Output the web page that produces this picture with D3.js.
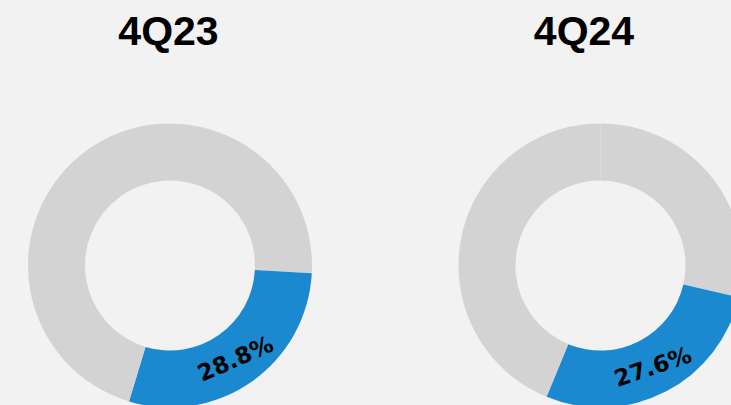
<!DOCTYPE html>
<html>
<head>
<meta charset="utf-8">
<script src="https://cdnjs.cloudflare.com/ajax/libs/d3/7.8.5/d3.min.js"></script>
<style>
  html, body { margin: 0; padding: 0; background: #f2f2f2; }
  svg { display: block; }
</style>
</head>
<body>
<div id="chart"></div>
<script>
// quarters and their slices (percent); blue slice is the highlighted share
var quarters = ["4Q23", "4Q24"];
var slices4Q23 = [36.0, 28.8, 35.2];
var slices4Q24 = [28.6, 27.6, 34.6, 9.2];
var highlight = [1, 1];            // index of the blue slice in each donut
var labels = ["28.8%", "27.6%"];

var width = 731, height = 405,
    outerR = 142, innerR = 85;

// layout for each panel
var centers = [[170, 265.5], [600.5, 265.5]],
    titleX = [168.5, 584],
    startAngles = [-36.5, 0];       // degrees, clockwise from 12 o'clock

var svg = d3.select("#chart").append("svg")
    .attr("width", width)
    .attr("height", height);

svg.append("rect")
    .attr("width", width)
    .attr("height", height)
    .attr("fill", "#f2f2f2");

var arc = d3.arc()
    .innerRadius(innerR)
    .outerRadius(outerR);

var data = [slices4Q23, slices4Q24];

data.forEach(function(values, k) {
    var start = startAngles[k] * Math.PI / 180;
    var pie = d3.pie()
        .sort(null)
        .startAngle(start)
        .endAngle(start + 2 * Math.PI);

    var g = svg.append("g")
        .attr("transform", "translate(" + centers[k][0] + "," + centers[k][1] + ")");

    var arcs = pie(values);

    g.selectAll(".arc")
        .data(arcs)
        .enter().append("path")
        .attr("class", "arc")
        .attr("d", arc)
        .attr("fill", function(d, i) { return i === highlight[k] ? "#1a89d0" : "#d2d3d2"; });

    // label along the blue slice
    var hl = arcs[highlight[k]];
    var c = arc.centroid(hl);
    var mid = (hl.startAngle + hl.endAngle) / 2 * 180 / Math.PI;
    var rot = (mid - 180) * 0.68;
    g.append("text")
        .attr("transform", "translate(" + c[0] + "," + c[1] + ") rotate(" + rot + ")")
        .attr("text-anchor", "middle")
        .attr("dy", "0.36em")
        .attr("font-family", "DejaVu Sans, sans-serif")
        .attr("font-weight", "bold")
        .attr("font-size", 23)
        .attr("fill", "#000")
        .text(labels[k]);

    svg.append("text")
        .attr("x", titleX[k])
        .attr("y", 45)
        .attr("text-anchor", "middle")
        .attr("font-family", "Liberation Sans, Arial, sans-serif")
        .attr("font-weight", "bold")
        .attr("font-size", 41)
        .attr("fill", "#000")
        .text(quarters[k]);
});
</script>
</body>
</html>
